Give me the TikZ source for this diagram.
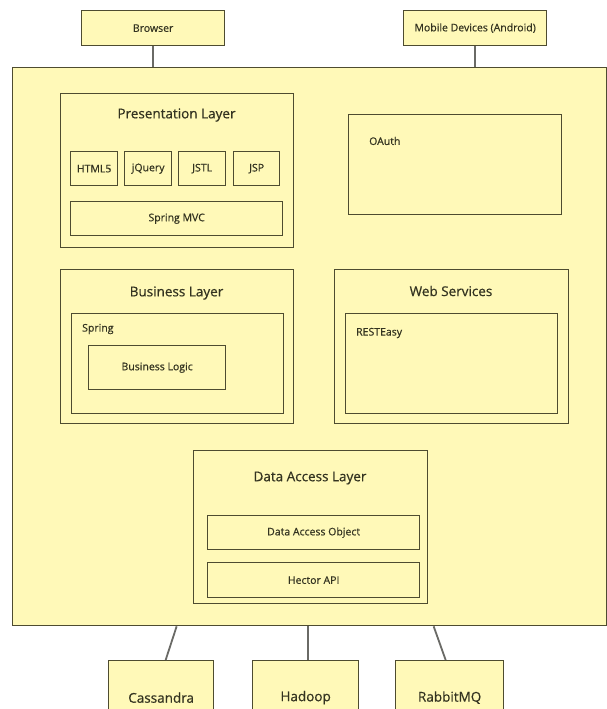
\documentclass[tikz,border=0pt]{standalone}
\usepackage{fontspec}
\setmainfont{Open Sans}[FakeBold=0.6]
\definecolor{boxfill}{HTML}{FFF9B8}
\definecolor{boxline}{HTML}{4E4C30}
\definecolor{linkline}{HTML}{6A6A66}
\definecolor{txt}{HTML}{333320}
\tikzset{
  box/.style={draw=boxline, line width=1.3pt, fill=boxfill, anchor=north west, inner sep=0pt, text=txt, font=\fontsize{10.5}{12}\selectfont},
  title/.style={text=txt, font=\fontsize{13.5}{15}\selectfont, inner sep=0pt},
  lbl/.style={text=txt, font=\fontsize{10.5}{12}\selectfont, inner sep=0pt, anchor=west},
  big/.style={font=\fontsize{13.5}{15}\selectfont},
  link/.style={draw=linkline, line width=1.8pt}
}
\begin{document}
\begin{tikzpicture}[x=1pt,y=-1pt]
\fill[white] (0,0) rectangle (607,709);
\clip (0,0) rectangle (607,709);
% outer elements
\node[box, minimum width=143pt, minimum height=35pt] (browser) at (81,10) {Browser};
\node[box, minimum width=143pt, minimum height=35pt] (mobile) at (403,10) {Mobile Devices (Android)};
\node[box, minimum width=594pt, minimum height=558pt] (main) at (12,67) {};
% presentation layer
\node[box, minimum width=233pt, minimum height=154pt] (pres) at (60,93) {};
\node[title] (prest) at (176.5,115) {Presentation Layer};
\node[box, minimum width=47pt, minimum height=34pt] (html) at (70,151) {HTML5};
\node[box, minimum width=47pt, minimum height=34pt] (jquery) at (124,151) {jQuery};
\node[box, minimum width=47pt, minimum height=34pt] (jstl) at (178,151) {JSTL};
\node[box, minimum width=46pt, minimum height=34pt] (jsp) at (233,151) {JSP};
\node[box, minimum width=212pt, minimum height=34pt] (mvc) at (70,201) {Spring MVC};
% oauth
\node[box, minimum width=213pt, minimum height=100pt] (oauth) at (348,114) {};
\node[lbl] (oautht) at (369,141) {OAuth};
% business layer
\node[box, minimum width=233pt, minimum height=154pt] (bus) at (60,269) {};
\node[title] (bust) at (176.5,293) {Business Layer};
\node[box, minimum width=212pt, minimum height=100pt] (spring) at (71,313) {};
\node[lbl] (springt) at (82,329) {Spring};
\node[box, minimum width=137pt, minimum height=44pt] (logic) at (88,345) {Business Logic};
% web services
\node[box, minimum width=234pt, minimum height=154pt] (ws) at (334,269) {};
\node[title] (wst) at (451,291) {Web Services};
\node[box, minimum width=212pt, minimum height=100pt] (rest) at (345,313) {};
\node[lbl] (restt) at (356,333) {RESTEasy};
% data access layer
\node[box, minimum width=234pt, minimum height=153pt] (dal) at (193,450) {};
\node[title] (dalt) at (310,478) {Data Access Layer};
\node[box, minimum width=212pt, minimum height=34pt] (dao) at (207,515) {Data Access Object};
\node[box, minimum width=212pt, minimum height=35pt] (hector) at (207,562) {Hector API};
% bottom systems
\node[box, big, minimum width=105pt, minimum height=74pt] (cass) at (108,660) {Cassandra};
\node[box, big, minimum width=106pt, minimum height=74pt] (hadoop) at (252,660) {Hadoop};
\node[box, big, minimum width=108pt, minimum height=74pt] (rabbit) at (395,660) {RabbitMQ};
% connectors
\draw[link] (browser.south) -- (browser.south |- main.north);
\draw[link] (mobile.south) -- (mobile.south |- main.north);
\draw[link] ([xshift=4.5pt]cass.north) -- ([xshift=15.5pt]cass.north |- main.south);
\draw[link] ([xshift=2pt]hadoop.north) -- ([xshift=2pt]hadoop.north |- main.south);
\draw[link] ([xshift=-4pt]rabbit.north) -- ([xshift=-16pt]rabbit.north |- main.south);
\end{tikzpicture}
\end{document}
